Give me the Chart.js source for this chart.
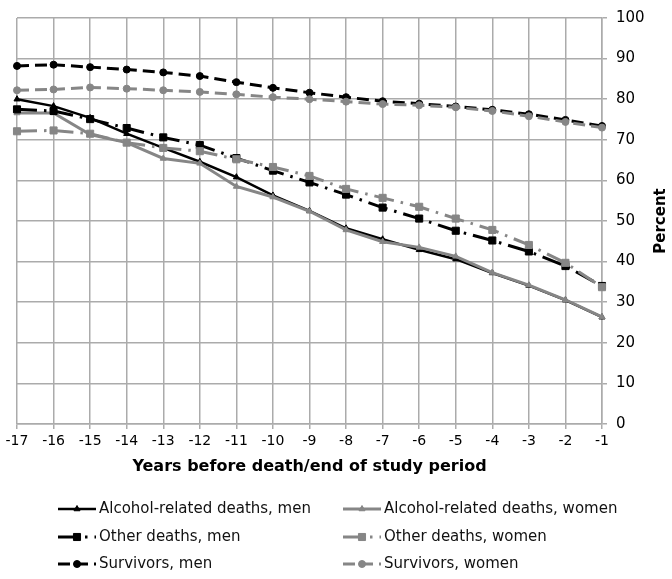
<!DOCTYPE html>
<html>
<head>
<meta charset="utf-8">
<script src="https://cdn.jsdelivr.net/npm/chart.js@4.4.1/dist/chart.umd.min.js"></script>
<style>
html, body { margin: 0; padding: 0; background: #fff; }
#wrap { width: 672px; height: 579px; position: relative; }
</style>
</head>
<body>
<div id="wrap"><canvas id="chart"></canvas></div>
<script>
// data
const years = ['-17', '-16', '-15', '-14', '-13', '-12', '-11', '-10', '-9', '-8', '-7', '-6', '-5', '-4', '-3', '-2', '-1'];
const yTicks = [0, 10, 20, 30, 40, 50, 60, 70, 80, 90, 100];

const alcoholMen   = [80.0, 78.3, 75.4, 71.5, 68.0, 64.6, 60.8, 56.3, 52.5, 48.2, 45.5, 42.9, 40.6, 37.2, 34.1, 30.5, 26.3];
const alcoholWomen = [76.6, 76.6, 71.3, 69.3, 65.4, 64.2, 58.5, 55.9, 52.4, 47.8, 44.9, 43.5, 41.3, 37.3, 34.2, 30.6, 26.4];
const otherMen     = [77.5, 77.1, 75.1, 72.9, 70.6, 68.7, 65.5, 62.4, 59.5, 56.5, 53.3, 50.6, 47.6, 45.2, 42.5, 38.9, 34.0];
const otherWomen   = [72.1, 72.3, 71.5, 69.3, 68.0, 67.2, 65.2, 63.3, 61.1, 57.9, 55.7, 53.5, 50.6, 47.8, 44.1, 39.7, 33.7];
const survMen      = [88.2, 88.5, 87.9, 87.3, 86.6, 85.7, 84.2, 82.8, 81.6, 80.5, 79.5, 78.9, 78.2, 77.4, 76.3, 74.9, 73.4];
const survWomen    = [82.2, 82.4, 82.9, 82.6, 82.2, 81.8, 81.2, 80.5, 80.0, 79.4, 78.8, 78.5, 78.0, 77.1, 75.8, 74.4, 73.0];

const xTitle = 'Years before death/end of study period';
const yTitle = 'Percent';

const BLACK = '#000000';
const GRAY = '#868686';
const GRID = '#ababab';
const FONT = '"DejaVu Sans", Verdana, sans-serif';

const DASH_DOT = [20, 7, 2.5, 7];
const DASH = [12, 6];

function series(label, data, color, style, radius, dash, width) {
    return {
        label: label,
        data: data,
        borderColor: color,
        backgroundColor: color,
        pointBackgroundColor: color,
        pointBorderColor: color,
        pointBorderWidth: 1,
        pointStyle: style,
        pointRadius: radius,
        borderWidth: width,
        borderDash: dash,
        tension: 0,
        fill: false
    };
}

const datasets = [
    series('Alcohol-related deaths, men', alcoholMen, BLACK, 'triangle', 3.5, [], 2.5),
    series('Alcohol-related deaths, women', alcoholWomen, GRAY, 'triangle', 3.5, [], 3),
    series('Other deaths, men', otherMen, BLACK, 'rect', 5, DASH_DOT, 3),
    series('Other deaths, women', otherWomen, GRAY, 'rect', 5, DASH_DOT, 3),
    series('Survivors, men', survMen, BLACK, 'circle', 3.5, DASH, 3),
    series('Survivors, women', survWomen, GRAY, 'circle', 3.5, DASH, 3)
];
// later series drawn on top, as in the original
datasets.forEach(function (ds, i) { ds.order = datasets.length - 1 - i; });

// legend in two columns under the chart
const legendX = [58, 343];
const legendY = [509, 537, 564];

const extras = {
    id: 'extras',
    afterDraw: function (chart) {
        var ctx = chart.ctx;
        var area = chart.chartArea;

        ctx.save();
        ctx.translate(661, (area.top + area.bottom) / 2);
        ctx.rotate(-Math.PI / 2);
        ctx.font = 'bold 15px ' + FONT;
        ctx.textAlign = 'center';
        ctx.textBaseline = 'middle';
        ctx.fillStyle = BLACK;
        ctx.fillText(yTitle, 0, 0);
        ctx.restore();

        chart.data.datasets.forEach(function (ds, i) {
            var x0 = legendX[i % 2];
            var y = legendY[Math.floor(i / 2)];
            ctx.save();
            ctx.strokeStyle = ds.borderColor;
            ctx.lineWidth = ds.borderWidth;
            ctx.setLineDash(ds.borderDash);
            ctx.beginPath();
            ctx.moveTo(x0, y);
            ctx.lineTo(x0 + 38, y);
            ctx.stroke();
            ctx.setLineDash([]);
            ctx.fillStyle = ds.pointBackgroundColor;
            ctx.lineWidth = 1;
            Chart.helpers.drawPoint(ctx, {
                pointStyle: ds.pointStyle,
                radius: ds.pointRadius,
                borderWidth: 1,
                rotation: 0
            }, x0 + 19, y);
            ctx.font = '15px ' + FONT;
            ctx.fillStyle = '#111';
            ctx.textAlign = 'left';
            ctx.textBaseline = 'middle';
            ctx.fillText(ds.label, x0 + 41, y);
            ctx.restore();
        });
    }
};

new Chart(document.getElementById('chart'), {
    type: 'line',
    data: { labels: years, datasets: datasets },
    options: {
        responsive: true,
        maintainAspectRatio: false,
        animation: false,
        layout: { padding: { top: 12, left: 17, right: 0, bottom: 95 } },
        plugins: {
            legend: { display: false },
            tooltip: { enabled: false }
        },
        scales: {
            x: {
                offset: false,
                grid: { color: GRID, lineWidth: 1.5, tickLength: 5 },
                border: { color: GRID, width: 1.5 },
                ticks: {
                    color: BLACK, padding: 4, autoSkip: false, maxRotation: 0,
                    font: { family: FONT, size: 14 }
                },
                title: {
                    display: true, text: xTitle, color: BLACK,
                    font: { family: FONT, size: 16, weight: 'bold' },
                    padding: { top: 4, bottom: 8 }
                },
                afterFit: function (scale) { scale.height = 60; }
            },
            y: {
                position: 'right',
                min: yTicks[0],
                max: yTicks[yTicks.length - 1],
                grid: { color: GRID, lineWidth: 1.5, tickLength: 5 },
                border: { color: GRID, width: 1.5 },
                ticks: {
                    stepSize: yTicks[1] - yTicks[0], color: BLACK, padding: 9,
                    font: { family: FONT, size: 15 }
                },
                afterFit: function (scale) { scale.width = 70; }
            }
        }
    },
    plugins: [extras]
});
</script>
</body>
</html>
